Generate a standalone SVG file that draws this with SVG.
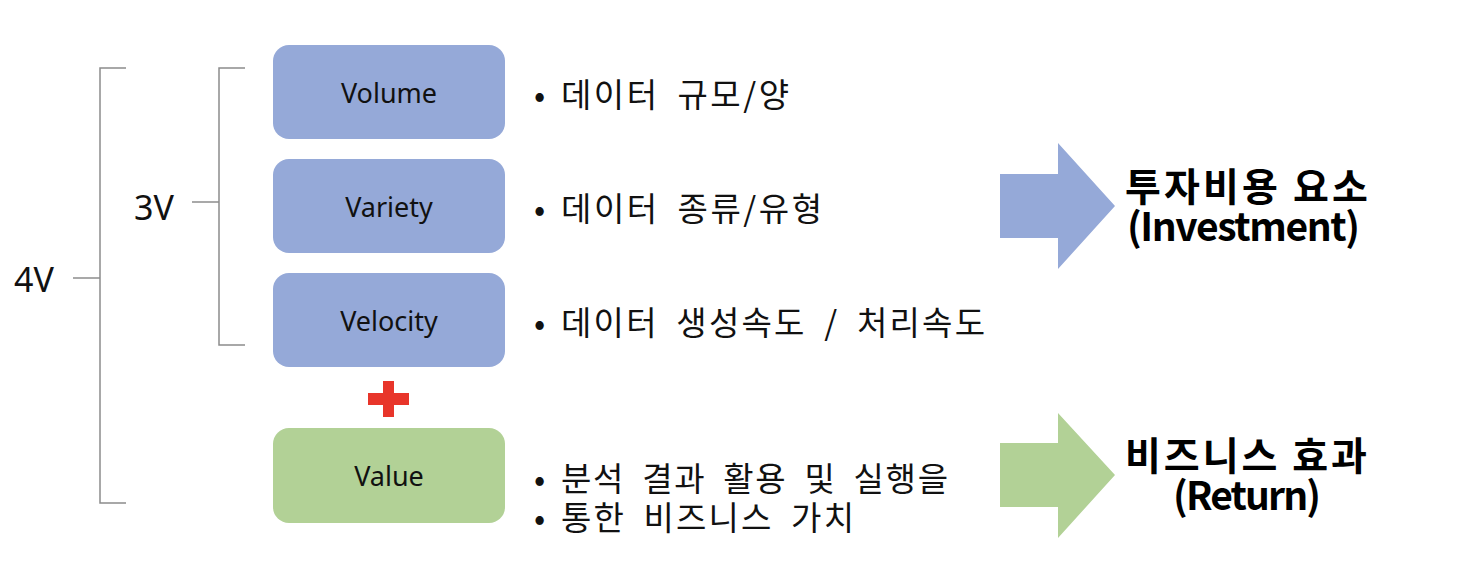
<svg xmlns="http://www.w3.org/2000/svg" width="1466" height="576" viewBox="0 0 1466 576">
<style>
.bx{fill:#95A9D8}
.gx{fill:#B2D196}
.lbl{font-family:"Noto Sans","Open Sans",sans-serif;font-size:27px;fill:#111;text-anchor:middle}
.vv{font-family:"Noto Sans","Open Sans",sans-serif;font-size:34px;fill:#111}
.bl{font-family:"Noto Sans CJK KR","Noto Sans",sans-serif;font-size:33px;word-spacing:8px;fill:#111}
.tt{font-family:"Noto Sans CJK KR","Noto Sans",sans-serif;font-size:39px;font-weight:bold;fill:#000}
.ln{stroke:#8C8C8C;stroke-width:1.5;fill:none}
</style>
<rect width="1466" height="576" fill="#fff"/>
<g id="connectors">
<path class="ln" d="M126,68 H100 V503 H126"/>
<path class="ln" d="M73,278 H100"/>
<path class="ln" d="M245,68 H219 V345 H245"/>
<path class="ln" d="M192,202 H219"/>
</g>
<g id="label-4v"><text class="vv" x="14" y="292">4V</text></g>
<g id="label-3v"><text class="vv" x="134" y="220">3V</text></g>
<g id="node-volume"><rect class="bx" x="273" y="45" width="232" height="94" rx="16"/><text class="lbl" x="389" y="103">Volume</text></g>
<g id="node-variety"><rect class="bx" x="273" y="159" width="232" height="94" rx="16"/><text class="lbl" x="389" y="217">Variety</text></g>
<g id="node-velocity"><rect class="bx" x="273" y="273" width="232" height="94" rx="16"/><text class="lbl" x="389" y="331">Velocity</text></g>
<g id="plus"><path fill="#E8352A" d="M383,381 H394 V393 H409 V405 H394 V417 H383 V405 H368 V393 H383 Z"/></g>
<g id="node-value"><rect class="gx" x="273" y="428" width="232" height="95" rx="16"/><text class="lbl" x="389" y="486">Value</text></g>
<g id="desc-volume"><text class="bl" x="534" y="107">•</text><text class="bl" x="561" y="107" textLength="228" lengthAdjust="spacing">데이터 규모/양</text></g>
<g id="desc-variety"><text class="bl" x="534" y="221">•</text><text class="bl" x="561" y="221" textLength="261" lengthAdjust="spacing">데이터 종류/유형</text></g>
<g id="desc-velocity"><text class="bl" x="534" y="335">•</text><text class="bl" x="561" y="335" textLength="424" lengthAdjust="spacing">데이터 생성속도 / 처리속도</text></g>
<g id="desc-value"><text class="bl" x="534" y="491">•</text><text class="bl" x="561" y="491" textLength="387" lengthAdjust="spacing">분석 결과 활용 및 실행을</text><text class="bl" x="534" y="530">•</text><text class="bl" x="561" y="530" textLength="293" lengthAdjust="spacing">통한 비즈니스 가치</text></g>
<g id="arrow-investment"><path fill="#95A9D8" d="M1000,174 H1058 V143 L1115,206 L1058,269 V238 H1000 Z"/></g>
<g id="arrow-return"><path fill="#B2D196" d="M1000,443 H1058 V413 L1115,475 L1058,538 V507 H1000 Z"/></g>
<g id="title-investment"><text class="tt" x="1125" y="201" textLength="243" lengthAdjust="spacing">투자비용 요소</text><text class="tt" x="1127" y="241" textLength="233" lengthAdjust="spacing">(Investment)</text></g>
<g id="title-return"><text class="tt" x="1125" y="470" textLength="242" lengthAdjust="spacing">비즈니스 효과</text><text class="tt" x="1173" y="510" textLength="148" lengthAdjust="spacing">(Return)</text></g>
</svg>
